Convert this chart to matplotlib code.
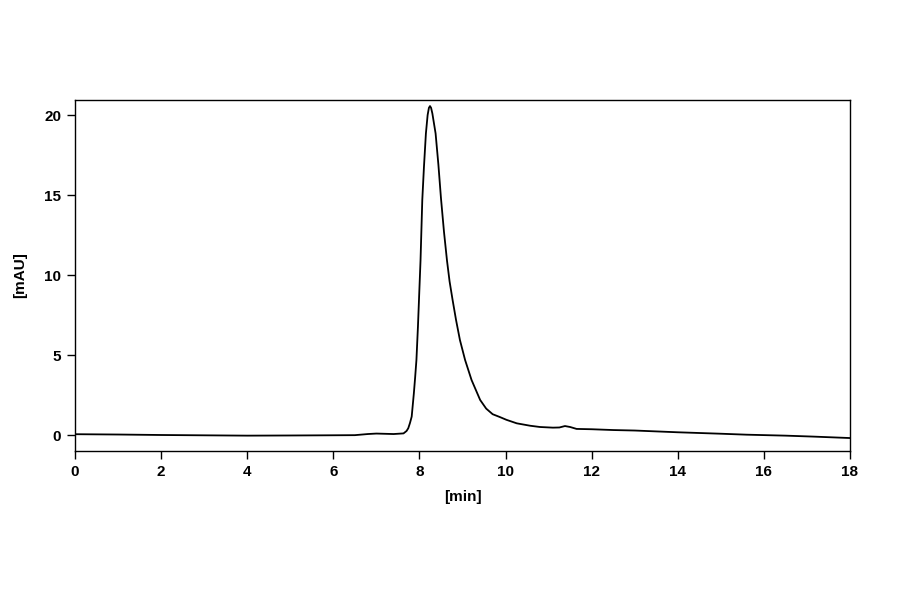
import matplotlib
matplotlib.use("Agg")
import matplotlib.pyplot as plt

times = [0, 1, 2, 3, 4, 5, 5.8, 6.5, 6.8, 7.0, 7.4, 7.63, 7.70, 7.74, 7.78, 7.82,
         7.87, 7.90, 7.93, 7.965, 7.995, 8.025, 8.066, 8.105, 8.15, 8.19, 8.22,
         8.245, 8.27, 8.30, 8.33, 8.375, 8.44, 8.50, 8.57, 8.64, 8.70, 8.77, 8.85,
         8.94, 9.06, 9.21, 9.41, 9.55, 9.70, 9.87, 10.02, 10.26, 10.57, 10.8, 11.1,
         11.25, 11.38, 11.5, 11.65, 12.0, 12.5, 13.0, 14.0, 15.0, 15.6, 16.5, 17.15,
         18.0]
signal = [0.05, 0.03, 0.0, -0.02, -0.04, -0.03, -0.02, -0.01, 0.06, 0.09, 0.06, 0.1,
          0.25, 0.42, 0.75, 1.15, 2.6, 3.6, 4.69, 6.77, 8.85, 10.9, 14.69, 16.77,
          18.85, 20.0, 20.45, 20.56, 20.45, 20.1, 19.6, 18.85, 16.9, 14.8, 12.7,
          10.9, 9.6, 8.44, 7.19, 5.94, 4.69, 3.44, 2.19, 1.65, 1.3, 1.12, 0.95, 0.73,
          0.58, 0.5, 0.46, 0.47, 0.56, 0.5, 0.38, 0.36, 0.31, 0.28, 0.17, 0.08,
          0.02, -0.04, -0.1, -0.19]

xticks = [0, 2, 4, 6, 8, 10, 12, 14, 16, 18]
yticks = [0, 5, 10, 15, 20]

plt.rcParams['font.family'] = ['Liberation Sans', 'DejaVu Sans']
fig = plt.figure(figsize=(9, 5.94), dpi=100)
ax = fig.add_axes([75/900, 1-451/594, 775/900, 351/594])
ax.plot(times, signal, color='black', lw=1.3, solid_joinstyle='round')
ax.set_xlim(0, 18)
ax.set_ylim(-1, 20.94)
ax.set_xticks(xticks)
ax.set_yticks(yticks)
ax.tick_params(direction='out', length=6, width=1, labelsize=11, pad=4)
for lab in ax.get_xticklabels() + ax.get_yticklabels():
    lab.set_fontweight('bold')
for s in ax.spines.values():
    s.set_linewidth(1)
ax.set_xlabel('[min]', fontsize=11, fontweight='bold', labelpad=8)
ax.set_ylabel('[mAU]', fontsize=11, fontweight='bold', labelpad=12)
fig.savefig('out.png', dpi=100)
